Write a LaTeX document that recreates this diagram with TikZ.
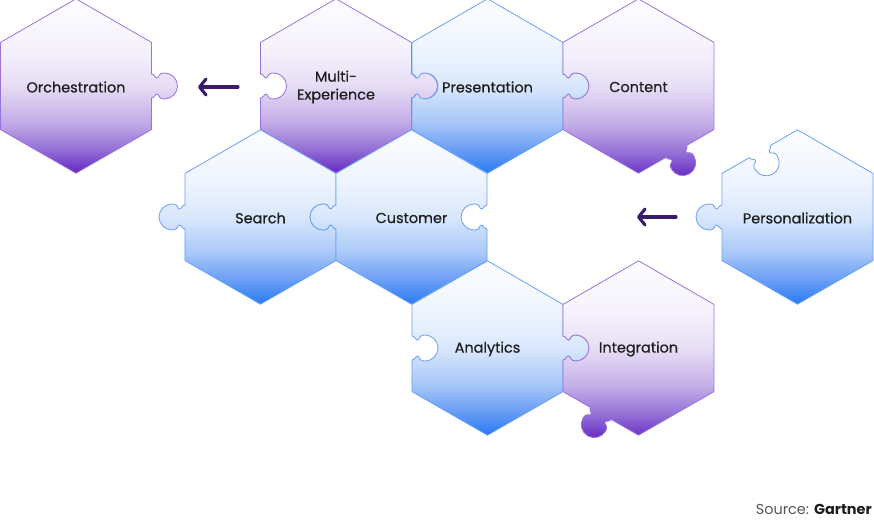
\documentclass[tikz,border=0pt]{standalone}
\usepackage{fontspec}
\setmainfont{Poppins}
\newfontfamily\medfont{Poppins}[FakeBold=0.6]
\usetikzlibrary{arrows.meta}

\definecolor{purpEdge}{HTML}{9A72DC}
\definecolor{bluEdge}{HTML}{6AA0F4}
\definecolor{purpD}{HTML}{6428C4}
\definecolor{purpC}{HTML}{9470D6}
\definecolor{purpB}{HTML}{C4AEE8}
\definecolor{purpA}{HTML}{E6DCF4}
\definecolor{purp0}{HTML}{F5F1FC}
\definecolor{bluD}{HTML}{2A7AF2}
\definecolor{bluC}{HTML}{6A9EF5}
\definecolor{bluB}{HTML}{AAC9F8}
\definecolor{bluA}{HTML}{D9E7FC}
\definecolor{blu0}{HTML}{EEF4FE}
\definecolor{top0}{HTML}{FDFDFF}
\definecolor{ink}{HTML}{1E1E1E}
\definecolor{arrowInk}{HTML}{3A1B6B}
\definecolor{srcGray}{HTML}{555555}

\pgfdeclareverticalshading{purpfade}{100bp}{color(0bp)=(purpD); color(25bp)=(purpD);
  color(32bp)=(purpC); color(40bp)=(purpB); color(50bp)=(purpA); color(60bp)=(purp0);
  color(75bp)=(top0); color(100bp)=(top0)}
\pgfdeclareverticalshading{blufade}{100bp}{color(0bp)=(bluD); color(25bp)=(bluD);
  color(32bp)=(bluC); color(40bp)=(bluB); color(50bp)=(bluA); color(60bp)=(blu0);
  color(75bp)=(top0); color(100bp)=(top0)}

% #1 centre, #2 style, #3 tabs on the six sides (right, then clockwise): 1 knob, -1 hole, 0 plain
\newcommand\piece[3]{%
  \path[#2, shift={#1}] (75.5,43.6)
    \foreach \t [count=\k from 0] in {#3} {
      {[rotate=-60*\k, xshift=75.5bp, xscale=\t]
        -- (0,12) .. controls (3,12) and (3.5,8) .. (5.5,8)
        .. controls (8,8) and (6,13) .. (13,13)
        .. controls (20,13) and (26,7.2) .. (26,0)
        .. controls (26,-7.2) and (20,-13) .. (13,-13)
        .. controls (6,-13) and (8,-8) .. (5.5,-8)
        .. controls (3.5,-8) and (3,-12) .. (0,-12) -- (0,-43.6)}
    } -- cycle;}

\begin{document}
\begin{tikzpicture}[x=1bp, y=1bp,
    purp/.style={draw=purpEdge, line width=0.8bp, line join=round, shade, shading=purpfade},
    blu/.style={draw=bluEdge, line width=0.8bp, line join=round, shade, shading=blufade},
    lbl/.style={font=\medfont\fontsize{14.5}{18}\selectfont, text=ink, align=center, inner sep=0pt},
    flow/.style={draw=arrowInk, line width=3.1bp, line cap=round,
                 -{Straight Barb[length=6.5bp, width=16bp, line cap=round, line join=round]}},
    ]
\useasboundingbox (0,0) rectangle (874,-520);

\piece{(76,-86)}{purp}{1,0,0,0,0,0}
\piece{(336,-86)}{purp}{1,0,0,-1,0,0}
\piece{(487.5,-86)}{blu}{1,0,0,-1,0,0}
\piece{(638.5,-86)}{purp}{0,1,0,-1,0,0}
\piece{(260.5,-217)}{blu}{-1,0,0,1,0,0}
\piece{(411.5,-217)}{blu}{-1,0,0,1,0,0}
\piece{(487.5,-348)}{blu}{1,0,0,-1,0,0}
\piece{(638.5,-348)}{purp}{0,0,1,-1,0,0}
\piece{(797.5,-217)}{blu}{0,0,0,1,-1,0}

\node[lbl] (orch)    at (76,-87)     {Orchestration};
\node[lbl] (multi)   at (336,-87)    {Multi-\\Experience};
\node[lbl] (present) at (487.5,-87)  {Presentation};
\node[lbl] (content) at (638.5,-87)  {Content};
\node[lbl] (search)  at (260.5,-218) {Search};
\node[lbl] (cust)    at (411.5,-218) {Customer};
\node[lbl] (analyt)  at (487.5,-349) {Analytics};
\node[lbl] (integr)  at (638.5,-349) {Integration};
\node[lbl] (person)  at (797.5,-218) {Personalization};

\coordinate (orchIn)    at (198,-87);
\coordinate (multiOut)  at (238,-87);
\coordinate (custIn)    at (637,-217);
\coordinate (personOut) at (676,-217);
\draw[flow] (multiOut) -- (orchIn);
\draw[flow] (personOut) -- (custIn);

\node[anchor=base east, inner sep=0pt, font=\fontsize{14.5}{17}\selectfont] (src) at (872,-514)
  {\textcolor{srcGray}{Source:} \textcolor{ink}{\textbf{Gartner}}};
\end{tikzpicture}
\end{document}
